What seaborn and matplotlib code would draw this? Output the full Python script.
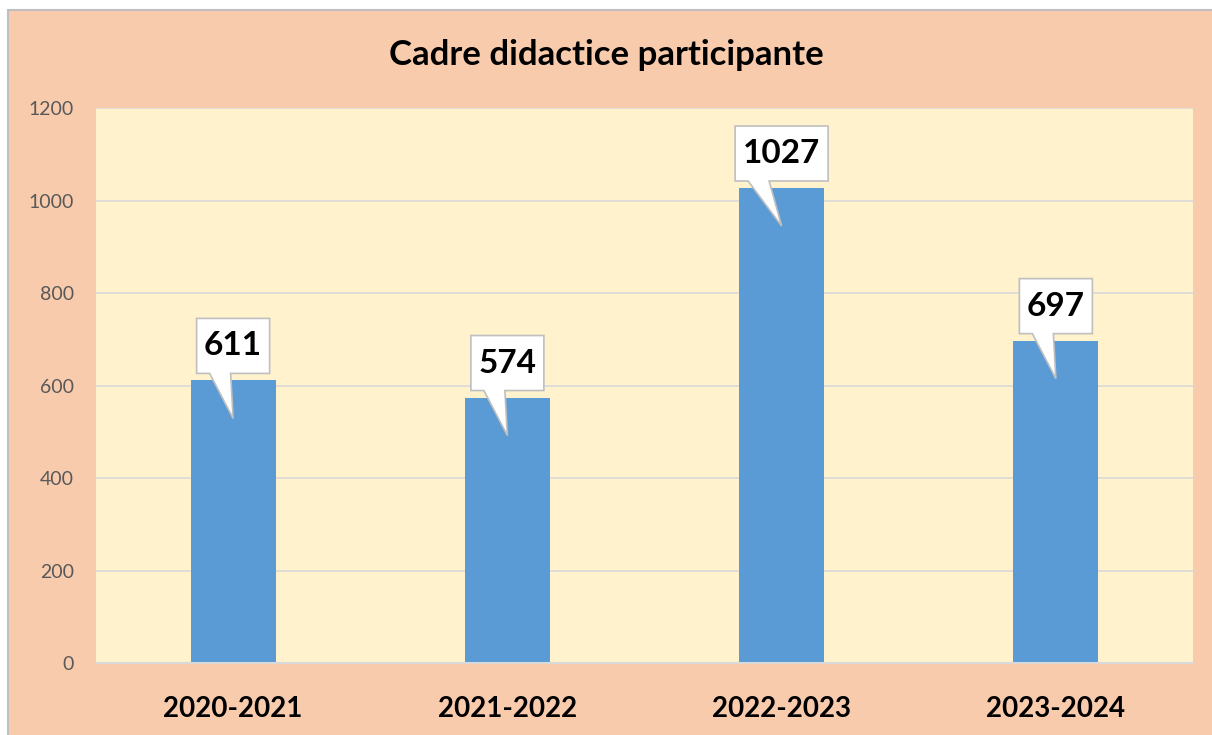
import matplotlib
matplotlib.use("Agg")
import matplotlib.pyplot as plt
import matplotlib.transforms as mtransforms
from matplotlib.patches import Polygon, Rectangle
import seaborn as sns
import pandas as pd

# Academic years and number of participating teachers
years = ["2020-2021", "2021-2022", "2022-2023", "2023-2024"]
teachers = [611, 574, 1027, 697]
y_ticks = [0, 200, 400, 600, 800, 1000, 1200]
title = "Cadre didactice participante"

df = pd.DataFrame({"an": years, "cadre": teachers})

sns.set_theme(style="white")
plt.rcParams["font.family"] = ["Lato", "DejaVu Sans"]

fig = plt.figure(figsize=(12.12, 7.35), dpi=100, facecolor="white")
# salmon chart area with a thin grey frame
fig.patches.append(Rectangle((8 / 1212, -0.05), 1.1, (735 - 10) / 735 + 0.05,
                             transform=fig.transFigure, facecolor="#F8CBAD",
                             edgecolor="#BFBFBF", linewidth=1.5, zorder=-5))

ax = fig.add_axes([96 / 1212, (735 - 663) / 735, (1193 - 96) / 1212, (663 - 108) / 735])
ax.set_facecolor("#FFF2CC")

sns.barplot(data=df, x="an", y="cadre", color="#5B9BD5", saturation=1,
            width=0.31, linewidth=0, ax=ax, zorder=3)

ax.set_ylim(0, 1200)
ax.set_xlim(-0.5, len(years) - 0.5)
ax.set_yticks(y_ticks)
ax.yaxis.grid(True, color="#D9D9D9", linewidth=1.2, zorder=0)
ax.set_axisbelow(True)
for side in ["top", "right", "left"]:
    ax.spines[side].set_visible(False)
ax.spines["bottom"].set_color("#D9D9D9")
ax.spines["bottom"].set_linewidth(1.5)
ax.spines["bottom"].set_zorder(4)
ax.tick_params(axis="y", length=0, pad=16, labelsize=14, labelcolor="#595959")
ax.tick_params(axis="x", length=0, pad=24, labelsize=20)
for lbl in ax.get_xticklabels():
    lbl.set_fontweight("bold")
    lbl.set_color("black")
ax.set_xlabel("")
ax.set_ylabel("")

fig.text(0.5, 1 - 55 / 735, title, ha="center", va="center",
         fontsize=25, fontweight="bold", color="black")

# callout labels: white box with a pointer reaching into each bar
for i, v in enumerate(teachers):
    label = str(v)
    w = 0.13 + 0.20 * len(label)   # box width in inches
    h = 0.55
    gap = 0.07
    left = -w / 2
    bottom = gap
    trans = fig.dpi_scale_trans + mtransforms.ScaledTranslation(i, v, ax.transData)
    verts = [
        (left, bottom),
        (left + 0.13, bottom),
        (0.0, -0.38),
        (left + 0.34, bottom),
        (left + w, bottom),
        (left + w, bottom + h),
        (left, bottom + h),
    ]
    ax.add_patch(Polygon(verts, closed=True, transform=trans, facecolor="white",
                         edgecolor="#BFBFBF", linewidth=1.2, zorder=5, clip_on=False))
    ax.text(0, bottom + h / 2, label, transform=trans, ha="center", va="center",
            fontsize=24, fontweight="bold", color="black", zorder=6)

fig.savefig("out.png", dpi=100, facecolor=fig.get_facecolor())
